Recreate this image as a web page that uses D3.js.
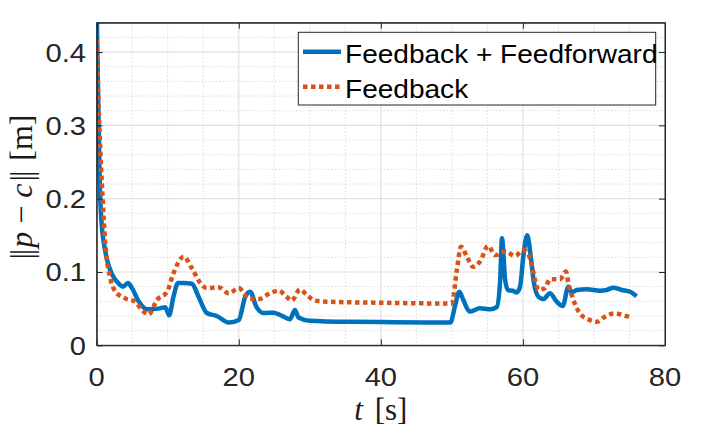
<!DOCTYPE html>
<html>
<head>
<meta charset="utf-8">
<script src="https://cdn.jsdelivr.net/npm/d3@7"></script>
<style>
  body { margin: 0; background: #fff; }
  svg { display: block; }
</style>
</head>
<body>
<script>

//Data: time stamps and error values for both runs

const tFF = [0, 0.1, 0.25, 0.45, 0.7, 1.0, 1.5, 2.15, 3.1, 3.7, 4.4, 4.97, 5.9, 7.08, 8.7, 9.66, 10.2, 10.8, 11.45, 12.2, 13.4, 14.35, 15.5, 16.9, 18.6, 20.0, 20.9, 21.6, 22.5, 23.45, 24.9, 26.3, 27.2, 27.9, 28.4, 30.0, 35.7, 42, 49.8, 50.4, 51.05, 51.6, 52.5, 53.95, 55.4, 56.3, 56.8, 57.05, 57.5, 57.9, 58.6, 59.1, 59.6, 60.05, 60.6, 61.1, 61.55, 62.2, 62.9, 63.8, 64.75, 65.6, 66.4, 66.85, 67.6, 69.0, 70.85, 71.8, 72.7, 73.9, 75.1, 76.0];
const errFF = [0.46, 0.40, 0.31, 0.215, 0.165, 0.14, 0.115, 0.097, 0.084, 0.080, 0.085, 0.078, 0.060, 0.049, 0.050, 0.052, 0.041, 0.066, 0.085, 0.085, 0.084, 0.066, 0.044, 0.040, 0.031, 0.0345, 0.066, 0.073, 0.052, 0.044, 0.0445, 0.039, 0.0355, 0.048, 0.038, 0.0336, 0.032, 0.0315, 0.031, 0.052, 0.073, 0.062, 0.046, 0.0505, 0.049, 0.052, 0.089, 0.146, 0.089, 0.075, 0.0745, 0.072, 0.080, 0.121, 0.150, 0.121, 0.085, 0.066, 0.063, 0.071, 0.0595, 0.0536, 0.080, 0.072, 0.0755, 0.0763, 0.0745, 0.0755, 0.0786, 0.0755, 0.073, 0.067];

const tFB = [0, 0.37, 0.84, 1.2, 1.9, 2.6, 4.0, 5.4, 6.4, 7.3, 8.5, 9.9, 10.8, 12.25, 13.4, 14.6, 15.5, 17.2, 18.6, 20.0, 21.4, 22.8, 24.4, 25.6, 26.75, 27.45, 28.6, 29.6, 30.7, 32.4, 40.3, 50.0, 50.7, 51.3, 52.1, 53.0, 53.95, 55.1, 56.1, 57.5, 58.9, 60.05, 61.0, 61.7, 62.2, 63.1, 63.8, 65.2, 66.05, 66.4, 67.1, 68.0, 69.2, 70.4, 71.55, 72.95, 74.1, 75.3];
const errFB = [0.417, 0.30, 0.20, 0.14, 0.092, 0.074, 0.064, 0.0595, 0.048, 0.042, 0.062, 0.073, 0.098, 0.121, 0.105, 0.085, 0.078, 0.079, 0.071, 0.078, 0.064, 0.063, 0.071, 0.0745, 0.066, 0.061, 0.076, 0.0686, 0.061, 0.0595, 0.058, 0.057, 0.103, 0.1345, 0.121, 0.107, 0.114, 0.1355, 0.123, 0.128, 0.122, 0.130, 0.119, 0.089, 0.0755, 0.078, 0.090, 0.090, 0.1005, 0.0846, 0.062, 0.0437, 0.0355, 0.032, 0.039, 0.0437, 0.041, 0.0377];

const seriesNames = ["Feedback + Feedforward", "Feedback"];
const xTicks = [0, 20, 40, 60, 80];
const yTicks = [0, 0.1, 0.2, 0.3, 0.4];

//Layout

const width = 718;
const height = 433;
const plotLeft = 96.7, plotRight = 665, plotTop = 22.7, plotBottom = 345.3;
const axisColor = "#262626";
const blue = "#0072BD";
const orange = "#D95319";
const stretch = 1.1; //text in the picture is a bit wider than tall

var x = d3.scaleLinear().domain([0, 80]).range([plotLeft, plotRight]);
var y = d3.scaleLinear().domain([0, 0.44]).range([plotBottom, plotTop]);

var svg = d3.select("body")
  .append("svg")
  .attr("width", width)
  .attr("height", height);

svg.append("defs")
  .append("clipPath")
  .attr("id", "plotArea")
  .append("rect")
  .attr("x", plotLeft)
  .attr("y", plotTop)
  .attr("width", plotRight - plotLeft)
  .attr("height", plotBottom - plotTop);

//Minor grid (dotted) then major grid

var minorX = d3.range(5, 80, 5).filter(function (d) { return d % 20 !== 0; });
var minorY = d3.range(1, 22).map(function (d) { return d * 0.02; })
  .filter(function (d) { return Math.abs(d * 10 - Math.round(d * 10)) > 1e-6; });

svg.append("g")
  .selectAll("line")
  .data(minorX)
  .enter()
  .append("line")
  .attr("x1", function (d) { return x(d); })
  .attr("x2", function (d) { return x(d); })
  .attr("y1", plotTop)
  .attr("y2", plotBottom)
  .attr("stroke", "#d6d6d6")
  .attr("stroke-width", 0.9)
  .attr("stroke-dasharray", "1.5,2");

svg.append("g")
  .selectAll("line")
  .data(minorY)
  .enter()
  .append("line")
  .attr("x1", plotLeft)
  .attr("x2", plotRight)
  .attr("y1", function (d) { return y(d); })
  .attr("y2", function (d) { return y(d); })
  .attr("stroke", "#d6d6d6")
  .attr("stroke-width", 0.9)
  .attr("stroke-dasharray", "1.5,2");

svg.append("g")
  .selectAll("line")
  .data(xTicks.slice(1, -1))
  .enter()
  .append("line")
  .attr("x1", function (d) { return x(d); })
  .attr("x2", function (d) { return x(d); })
  .attr("y1", plotTop)
  .attr("y2", plotBottom)
  .attr("stroke", "#e0e0e0")
  .attr("stroke-width", 1.2);

svg.append("g")
  .selectAll("line")
  .data(yTicks.slice(1))
  .enter()
  .append("line")
  .attr("x1", plotLeft)
  .attr("x2", plotRight)
  .attr("y1", function (d) { return y(d); })
  .attr("y2", function (d) { return y(d); })
  .attr("stroke", "#e0e0e0")
  .attr("stroke-width", 1.2);

//Curves

var line = d3.line()
  .x(function (d) { return x(d[0]); })
  .y(function (d) { return y(d[1]); })
  .curve(d3.curveMonotoneX);

var plot = svg.append("g").attr("clip-path", "url(#plotArea)");

plot.append("path")
  .datum(d3.zip(tFF, errFF))
  .attr("d", line)
  .attr("fill", "none")
  .attr("stroke", blue)
  .attr("stroke-width", 4.5)
  .attr("stroke-linejoin", "round");

plot.append("path")
  .datum(d3.zip(tFB, errFB))
  .attr("d", line)
  .attr("fill", "none")
  .attr("stroke", orange)
  .attr("stroke-width", 4.5)
  .attr("stroke-dasharray", "4.5,3.5");

//Axes: box with inward ticks on all four sides

var xAxisB = d3.axisBottom(x).tickValues(xTicks).tickSizeInner(-6).tickSizeOuter(0).tickFormat("");
var xAxisT = d3.axisTop(x).tickValues(xTicks).tickSizeInner(-6).tickSizeOuter(0).tickFormat("");
var yAxisL = d3.axisLeft(y).tickValues(yTicks).tickSizeInner(-6).tickSizeOuter(0).tickFormat("");
var yAxisR = d3.axisRight(y).tickValues(yTicks).tickSizeInner(-6).tickSizeOuter(0).tickFormat("");

svg.append("g").attr("transform", "translate(0," + plotBottom + ")").call(xAxisB);
svg.append("g").attr("transform", "translate(0," + plotTop + ")").call(xAxisT);
svg.append("g").attr("transform", "translate(" + plotLeft + ",0)").call(yAxisL);
svg.append("g").attr("transform", "translate(" + plotRight + ",0)").call(yAxisR);

svg.selectAll(".domain, .tick line")
  .attr("stroke", axisColor)
  .attr("stroke-width", 1);

svg.append("rect")
  .attr("x", plotLeft)
  .attr("y", plotTop)
  .attr("width", plotRight - plotLeft)
  .attr("height", plotBottom - plotTop)
  .attr("fill", "none")
  .attr("stroke", axisColor)
  .attr("stroke-width", 1);

//Tick labels

svg.append("g")
  .selectAll("text")
  .data(xTicks)
  .enter()
  .append("text")
  .attr("transform", function (d) { return "translate(" + x(d) + ",385.5) scale(" + stretch + ",1)"; })
  .attr("text-anchor", "middle")
  .style("font-family", "'Liberation Sans', Arial, sans-serif")
  .style("font-size", "26.5px")
  .attr("fill", axisColor)
  .text(function (d) { return d; });

svg.append("g")
  .selectAll("text")
  .data(yTicks)
  .enter()
  .append("text")
  .attr("transform", function (d) { return "translate(86," + (y(d) + 9.5) + ") scale(" + stretch + ",1)"; })
  .attr("text-anchor", "end")
  .style("font-family", "'Liberation Sans', Arial, sans-serif")
  .style("font-size", "26.5px")
  .attr("fill", axisColor)
  .text(function (d) { return d; });

//Axis labels (math style)

var xLabel = svg.append("text")
  .attr("x", (plotLeft + plotRight) / 2)
  .attr("y", 420)
  .attr("text-anchor", "middle")
  .style("font-family", "'Liberation Serif', 'DejaVu Serif', serif")
  .style("font-size", "31px")
  .attr("fill", "#1a1a1a");
xLabel.append("tspan").style("font-style", "italic").text("t");
xLabel.append("tspan").attr("dx", 4).text(" [s]");

var yLabel = svg.append("text")
  .attr("transform", "translate(32," + ((plotTop + plotBottom) / 2 + 3) + ") rotate(-90)")
  .attr("text-anchor", "middle")
  .style("font-family", "'Liberation Serif', 'DejaVu Serif', serif")
  .style("font-size", "32px")
  .attr("fill", "#1a1a1a");
yLabel.append("tspan").text("|");
yLabel.append("tspan").attr("dx", -2).text("|");
yLabel.append("tspan").attr("dx", 1).style("font-style", "italic").text("p");
yLabel.append("tspan").attr("dx", 8).text("\u2212");
yLabel.append("tspan").attr("dx", 8).style("font-style", "italic").text("c");
yLabel.append("tspan").attr("dx", 2).text("|");
yLabel.append("tspan").attr("dx", -2).text("|");
yLabel.append("tspan").attr("dx", 10).text("[m]");

//Legend

var legend = svg.append("g");

legend.append("rect")
  .attr("x", 298.3)
  .attr("y", 32.3)
  .attr("width", 357.4)
  .attr("height", 72.7)
  .attr("fill", "#fff")
  .attr("stroke", axisColor)
  .attr("stroke-width", 1);

var entries = legend.selectAll("g")
  .data(seriesNames)
  .enter()
  .append("g")
  .attr("transform", function (d, i) { return "translate(0," + (i * 35) + ")"; });

entries.append("line")
  .attr("x1", 303)
  .attr("x2", 341)
  .attr("y1", 51.7)
  .attr("y2", 51.7)
  .attr("stroke", function (d, i) { return i === 0 ? blue : orange; })
  .attr("stroke-width", 4.5)
  .attr("stroke-dasharray", function (d, i) { return i === 0 ? null : "4.5,3.5"; });

entries.append("text")
  .attr("transform", "translate(345,62.7) scale(" + stretch + ",1)")
  .style("font-family", "'Liberation Sans', Arial, sans-serif")
  .style("font-size", "25.5px")
  .attr("fill", "#000")
  .text(function (d) { return d; });

</script>
</body>
</html>
